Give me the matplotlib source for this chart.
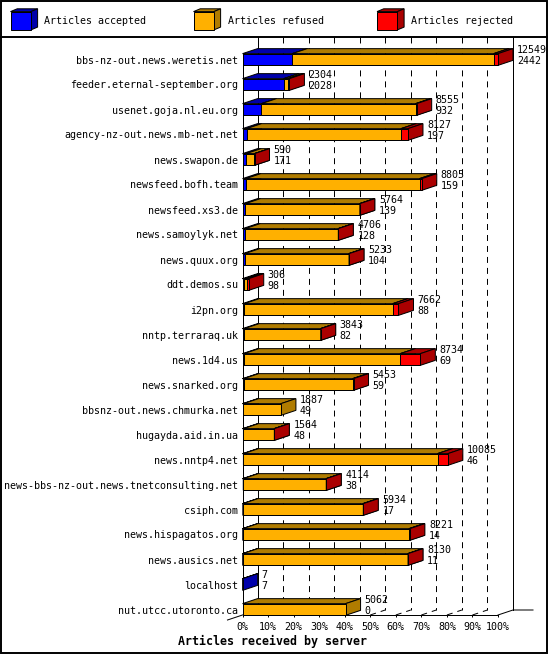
import matplotlib
matplotlib.use('Agg')
import matplotlib.pyplot as plt
from matplotlib.patches import Polygon, Rectangle
from matplotlib.lines import Line2D

# data (offered = top number, accepted = bottom number)
servers = ['bbs-nz-out.news.weretis.net', 'feeder.eternal-september.org',
           'usenet.goja.nl.eu.org', 'agency-nz-out.news.mb-net.net',
           'news.swapon.de', 'newsfeed.bofh.team', 'newsfeed.xs3.de',
           'news.samoylyk.net', 'news.quux.org', 'ddt.demos.su', 'i2pn.org',
           'nntp.terraraq.uk', 'news.1d4.us', 'news.snarked.org',
           'bbsnz-out.news.chmurka.net', 'hugayda.aid.in.ua', 'news.nntp4.net',
           'news-bbs-nz-out.news.tnetconsulting.net', 'csiph.com',
           'news.hispagatos.org', 'news.ausics.net', 'localhost',
           'nut.utcc.utoronto.ca']
offered = [12549, 2304, 8555, 8127, 590, 8805, 5764, 4706, 5233, 306, 7662,
           3843, 8734, 5453, 1887, 1564, 10085, 4114, 5934, 8221, 8130, 7, 5062]
accepted = [2442, 2028, 932, 197, 171, 159, 139, 128, 104, 98, 88,
            82, 69, 59, 49, 48, 46, 38, 17, 14, 11, 7, 0]
refused = [9897, 196, 7573, 7590, 417, 8536, 5615, 4568, 5119, 120, 7294,
           3751, 7680, 5354, 1838, 1511, 9534, 4071, 5897, 8167, 8109, 0, 5062]
rejected = [210, 80, 50, 340, 2, 110, 10, 10, 10, 88, 280,
            10, 985, 40, 0, 5, 505, 5, 20, 40, 10, 0, 0]

series_names = ['Articles accepted', 'Articles refused', 'Articles rejected']
face_colors = ['#0000ff', '#ffb000', '#ff0000']
dark_colors = ['#0000aa', '#b07c00', '#aa0000']
pct_ticks = list(range(0, 101, 10))

plt.rcParams['font.family'] = ['DejaVu Sans Mono', 'DejaVu Sans']
plt.rcParams['lines.scale_dashes'] = False

W, H = 550, 655
fig = plt.figure(figsize=(W / 100, H / 100), dpi=100)


def fx(px):
    return px / W


def fy(py):
    return 1 - py / H


lw = 0.72  # one pixel
FS = 7.2

# plot area: 0% .. 100% on the front plane, top of walls to the floor
X0, X1, YTOP, YFLOOR = 242.5, 498.0, 37.0, 615.0
ROW0, PITCH = 59.5, 25.0
ax = fig.add_axes([fx(X0), fy(YFLOOR), fx(X1) - fx(X0), fy(YTOP) - fy(YFLOOR)])
top_y = (YTOP - ROW0) / PITCH
floor_front = (YFLOOR - ROW0) / PITCH
ax.set_xlim(0, 100)
ax.set_ylim(floor_front, top_y)

px_per_pct = (X1 - X0) / 100
dx = 15 / px_per_pct   # 3d depth, horizontal
dy = 5 / PITCH         # 3d depth, vertical
hh = 5.85 / PITCH      # half bar height
floor_back = floor_front - dy
dash = (0, (4.3, 3.6))

# back walls and grid
ax.plot([dx, dx], [top_y, floor_back], color='black', lw=lw, zorder=1, clip_on=False)
ax.plot([100 + dx, 100 + dx], [top_y, floor_back], color='black', lw=lw, zorder=1, clip_on=False)
for t in pct_ticks[1:-1]:
    ax.plot([t + dx, t + dx], [top_y, floor_back], color='black', lw=lw,
            linestyle=dash, zorder=1, clip_on=False)
    ax.plot([t, t + dx], [floor_front, floor_back], color='black', lw=lw,
            linestyle=dash, zorder=1, clip_on=False)
# floor edges
ax.plot([-dx, dx], [floor_front + dy, floor_back], color='black', lw=lw, zorder=1, clip_on=False)
ax.plot([100, 100 + dx, 100 + dx + 20 / px_per_pct], [floor_front, floor_back, floor_back],
        color='black', lw=lw, zorder=1, clip_on=False)

# 3d stacked bars
scale = 100 / max(offered)
for i in range(len(servers)):
    counts = [accepted[i], refused[i], rejected[i]]
    left = 0
    top, bot = i - hh, i + hh
    for k, c in enumerate(counts):
        if c == 0:
            continue
        a, b = left, left + c * scale
        kw = dict(ec='black', lw=lw, clip_on=False, zorder=3, joinstyle='miter')
        ax.add_patch(Polygon([(a, top), (b, top), (b + dx, top - dy), (a + dx, top - dy)],
                             closed=True, fc=dark_colors[k], **kw))
        ax.add_patch(Polygon([(b, top), (b + dx, top - dy), (b + dx, bot - dy), (b, bot)],
                             closed=True, fc=dark_colors[k], **kw))
        ax.add_patch(Rectangle((a, top), b - a, bot - top, fc=face_colors[k], **kw))
        left = b
    tx = left + dx + 4 / px_per_pct
    ax.text(tx, i - 0.39, str(offered[i]), ha='left', va='center', fontsize=FS, clip_on=False)
    ax.text(tx, i + 0.07, str(accepted[i]), ha='left', va='center', fontsize=FS, clip_on=False)

for s in ['top', 'right']:
    ax.spines[s].set_visible(False)
ax.spines['left'].set_bounds(floor_front, -hh)
ax.spines['left'].set_linewidth(lw)
ax.spines['bottom'].set_linewidth(lw)
ax.set_facecolor('none')

ax.set_xticks(pct_ticks, [f'{t}%' for t in pct_ticks])
ax.set_yticks(range(len(servers)), servers)
ax.tick_params(axis='x', length=1.5, width=lw, pad=3.5, labelsize=FS)
ax.tick_params(axis='y', length=0, pad=3, labelsize=FS)

fig.text(fx(272), fy(641.5), 'Articles received by server', ha='center', va='center',
         fontsize=8.4, fontweight='bold')

# legend strip
for k, name in enumerate(series_names):
    x0 = [10.5, 193.5, 377.0][k]
    y0, fw, fh, ddx, ddy = 11.6, 20.4, 18.3, 6.7, 2.8
    kw = dict(ec='black', lw=lw, transform=fig.transFigure, joinstyle='miter')
    fig.patches.append(Polygon([(fx(x0), fy(y0)), (fx(x0 + fw), fy(y0)),
                                (fx(x0 + fw + ddx), fy(y0 - ddy)), (fx(x0 + ddx), fy(y0 - ddy))],
                               closed=True, fc=dark_colors[k], **kw))
    fig.patches.append(Polygon([(fx(x0 + fw), fy(y0)), (fx(x0 + fw + ddx), fy(y0 - ddy)),
                                (fx(x0 + fw + ddx), fy(y0 + fh - ddy)), (fx(x0 + fw), fy(y0 + fh))],
                               closed=True, fc=dark_colors[k], **kw))
    fig.patches.append(Polygon([(fx(x0), fy(y0)), (fx(x0 + fw), fy(y0)),
                                (fx(x0 + fw), fy(y0 + fh)), (fx(x0), fy(y0 + fh))],
                               closed=True, fc=face_colors[k], **kw))
    fig.text(fx(x0 + 34), fy(20.7), name, ha='left', va='center', fontsize=FS)

fig.lines.append(Line2D([fx(0), fx(547)], [fy(37), fy(37)], color='black', lw=1.4,
                        transform=fig.transFigure))
fig.patches.append(Rectangle((fx(1), fy(653)), fx(546), fy(1) - fy(653), fill=False,
                             ec='black', lw=1.4, transform=fig.transFigure))

fig.savefig('out.png', dpi=100)
